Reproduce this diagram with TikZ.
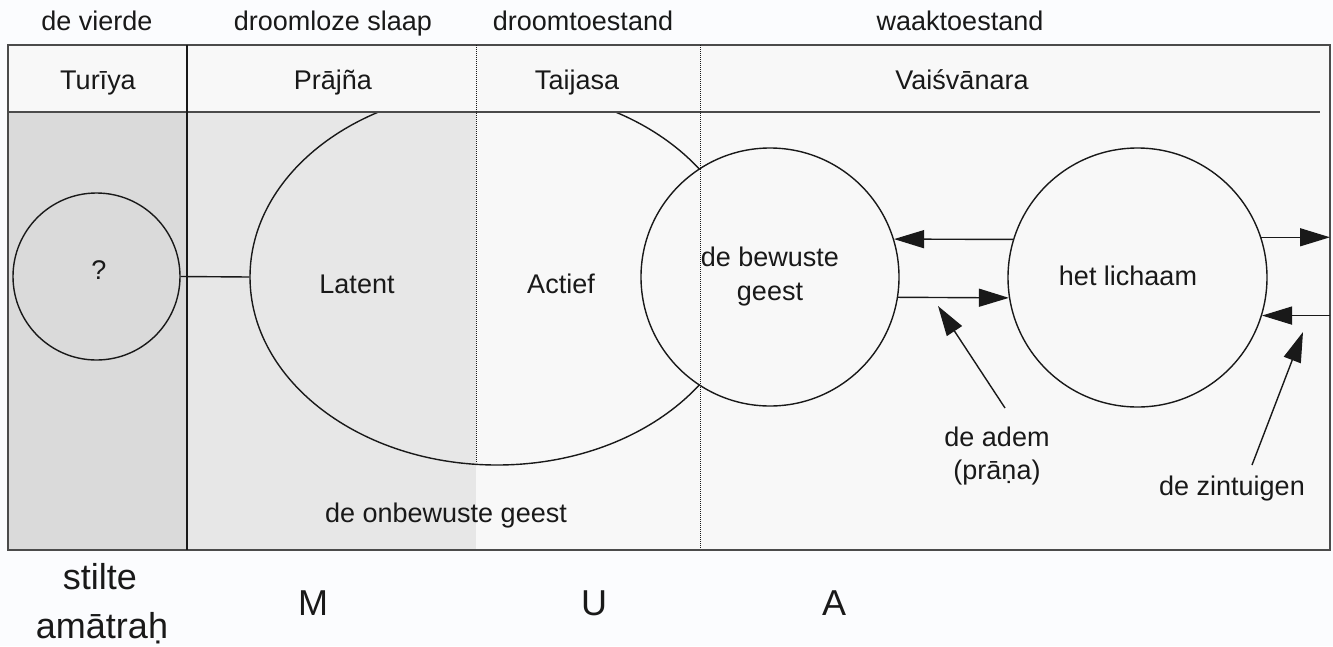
\documentclass[tikz,border=0pt]{standalone}
\usepackage{fontspec}
\setmainfont{Liberation Sans}
\usetikzlibrary{arrows.meta,shapes.geometric}
\definecolor{pagebg}{RGB}{251,252,254}
\definecolor{boxbg}{RGB}{248,248,248}
\definecolor{turiyabg}{RGB}{218,218,218}
\definecolor{prajnabg}{RGB}{231,231,231}
\definecolor{ink}{RGB}{25,25,25}
\definecolor{frame}{RGB}{75,75,75}
\tikzset{
  lbl/.style={font=\fontsize{27}{31}\selectfont, text=ink, inner sep=0pt, anchor=base},
  groot/.style={lbl, font=\fontsize{36}{40}\selectfont},
  kring/.style={draw=ink, line width=1.4pt, circle, inner sep=0pt},
  pijl/.style={draw=ink, line width=1.4pt, -{Triangle[length=30pt,width=18pt]}},
  stip/.style={draw=ink, line width=1pt, densely dotted},
}
\begin{document}
\begin{tikzpicture}[x=1pt,y=-1pt]
	\useasboundingbox (0,0) rectangle (1333,646);
	\fill[pagebg] (0,0) rectangle (1333,646);
	% vlakken
	\fill[boxbg] (8,45) rectangle (1330,550);
	\fill[turiyabg] (8,112) rectangle (187,550);
	\fill[prajnabg] (187,112) rectangle (476,550);
	% de onbewuste geest
	\begin{scope}
		\clip (8,113) rectangle (1330,550);
		\node[draw=ink, line width=1.4pt, ellipse, inner sep=0pt, minimum width=494pt, minimum height=376pt] (onbewust) at (497,277) {};
	\end{scope}
	\node[kring, minimum size=167pt] (vraag) at (96.5,276.5) {};
	\node[kring, fill=boxbg, minimum size=258pt, align=center, text=ink, font=\fontsize{27}{34}\selectfont] (bewust) at (770,277) {de bewuste\\geest};
	\node[kring, minimum size=259pt] (lijf) at (1137.5,277.5) {};
	\draw[ink, line width=1.4pt] (vraag.east) -- (onbewust.west);
	% kolommen
	\draw[frame, line width=2.4pt] (8,45) rectangle (1330,550);
	\draw[frame, line width=2.4pt] (8,112) -- (1320,112);
	\draw[ink, line width=1.4pt] (187,45) -- (187,550);
	\draw[stip] (476,45) -- (476,462);
	\draw[stip] (700,45) -- (700,548);
	% bovenste rij
	\node[lbl] (vierde) at (97,30) {de vierde};
	\node[lbl] (slaap) at (333,30) {droomloze slaap};
	\node[lbl] (droom) at (583,30) {droomtoestand};
	\node[lbl] (waak) at (960,30) {waaktoestand};
	\node[lbl] (turiya) at (98,89) {Turīya};
	\node[lbl] (prajna) at (333,89) {Prājña};
	\node[lbl] (taijasa) at (577,89) {Taijasa};
	\node[lbl] (vaisvanara) at (962,89) {Vaiśvānara};
	% teksten
	\node[lbl] (vraagtekst) at (99,279) {?};
	\node[lbl] (latent) at (357,293) {Latent};
	\node[lbl] (actief) at (561,293) {Actief};
	\node[lbl] (lijftekst) at (1128,285) {het lichaam};
	\node[lbl] (adem) at (997,446) {de adem};
	\node[lbl] (prana) at (997,479) {(prāṇa)};
	\node[lbl] (zintuigen) at (1232,495) {de zintuigen};
	\node[lbl] (onbewusttekst) at (446,522) {de onbewuste geest};
	% onderste rij
	\node[groot] (stilte) at (100,589) {stilte};
	\node[groot] (amatrah) at (102,638) {amātraḥ};
	\node[groot] (m) at (313,615) {M};
	\node[groot] (u) at (594,615) {U};
	\node[groot] (a) at (834,615) {A};
	% pijlen
	\coordinate (rand) at (1330,277);
	\coordinate (ademvoet) at (1005,408);
	\coordinate (ademtip) at (938,306);
	\coordinate (zinvoet) at (1252,465);
	\coordinate (zintip) at (1303,332);
	\draw[pijl] (lijf.163) -- (bewust.17);
	\draw[pijl] (bewust.-9) -- (lijf.189);
	\draw[pijl] (lijf.18) -- (lijf.18 -| rand);
	\draw[pijl] (lijf.-17 -| rand) -- (lijf.-17);
	\draw[pijl] (ademvoet) -- (ademtip);
	\draw[pijl] (zinvoet) -- (zintip);
\end{tikzpicture}
\end{document}
